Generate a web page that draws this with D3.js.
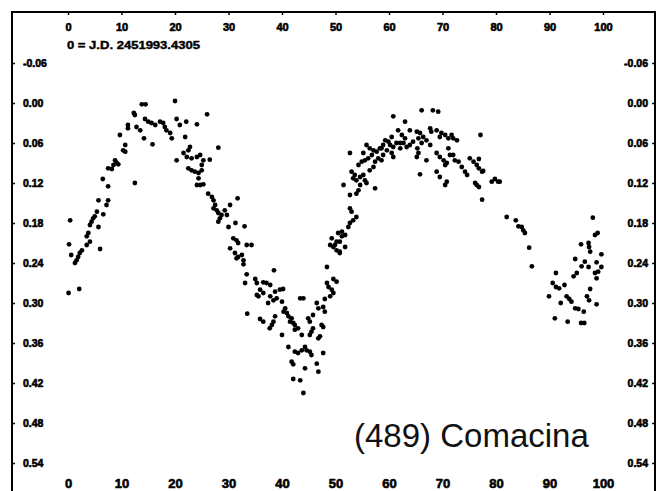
<!DOCTYPE html>
<html>
<head>
<meta charset="utf-8">
<script src="https://cdn.jsdelivr.net/npm/d3@7/dist/d3.min.js"></script>
<style>
  html, body { margin: 0; padding: 0; background: #fff; }
  svg { display: block; }
  .tick text { font-family: "Liberation Sans", Arial, sans-serif; font-weight: bold; fill: #000; stroke: #000; stroke-width: 0.6px; }
</style>
</head>
<body>
<svg id="chart" width="658" height="491"></svg>
<script>
// ---- Data (phase in %, differential magnitude) ----
const phase = [
  13.8,14.5,20.0,12.3,12.5,14.4,15.0,15.6,16.3,17.2,17.8,18.1,18.4,19.1,19.4,20.3,20.9,22.1,24.1,11.2,
  11.2,12.8,13.5,9.7,14.2,15.8,10.7,10.3,10.7,21.9,22.8,22.5,21.6,22.2,23.1,24.1,24.7,20.3,22.5,23.1,
  23.7,24.4,24.4,24.1,24.7,8.8,9.1,8.5,9.4,7.5,8.2,12.5,6.5,7.5,5.7,7.5,7.2,5.4,5.0,4.7,
  6.6,4.4,4.1,5.7,0.4,3.8,3.5,4.1,3.5,0.2,2.6,2.2,1.9,1.6,1.3,0.6,6.0,0.1,2.1,
  26.0,28.1,25.3,25.0,25.0,26.5,25.3,26.2,26.9,27.2,27.5,27.2,27.8,28.1,28.7,28.4,28.1,29.3,29.7,30.3,
  31.7,30.0,31.3,33.0,30.9,31.5,31.8,30.3,33.4,34.3,31.2,31.8,32.5,31.5,32.8,32.8,33.4,38.5,33.1,35.0,
  35.3,36.5,37.1,37.8,35.9,36.5,35.6,35.3,38.7,39.6,40.2,37.8,38.4,39.0,37.4,40.0,40.6,40.3,40.9,41.2,
  41.8,41.5,42.1,43.4,44.0,33.5,35.9,36.5,38.7,38.4,38.1,37.7,40.0,42.4,43.0,42.4,43.7,44.9,45.8,45.2,
  46.5,46.8,47.7,48.0,45.8,45.5,45.2,47.4,47.1,46.8,41.2,42.4,43.0,43.7,44.3,44.6,45.2,45.5,41.8,42.1,
  44.3,46.5,46.8,47.7,42.1,43.4,44.0,47.7,48.4,48.4,48.7,49.3,49.6,49.0,48.0,50.2,49.6,51.5,50.5,51.2,
  50.8,49.0,49.6,50.2,50.8,
  66.1,68.2,69.2,60.8,63.0,67.7,67.9,68.9,69.8,69.5,70.5,71.1,71.7,72.0,72.7,63.9,65.2,65.8,66.4,65.5,
  64.5,63.9,66.1,67.0,67.7,61.7,62.4,63.0,62.1,61.4,60.8,62.7,63.3,62.1,60.5,59.9,60.2,59.3,58.9,58.6,
  59.6,60.5,60.8,65.3,65.5,65.2,67.0,65.8,68.9,69.5,70.2,70.8,70.5,71.1,71.4,72.0,72.3,73.0,73.6,74.2,
  74.6,68.9,69.5,70.8,70.5,77.1,75.1,75.8,76.4,76.8,77.4,77.6,76.4,76.8,77.4,52.7,55.8,56.4,57.1,57.7,
  56.8,56.1,55.5,55.2,58.3,58.9,58.6,58.0,57.4,57.1,56.4,54.9,54.3,53.0,53.6,53.3,53.9,54.6,55.2,55.5,
  55.8,54.6,54.3,53.9,52.7,57.4,52.7,53.0,53.9,53.3,52.7,52.4,51.2,51.8,50.2,51.8,50.8,49.9,49.3,
  76.8,76.1,79.2,79.8,80.4,80.7,82.0,83.7,84.2,84.8,85.1,85.4,86.2,86.7,
  98.1,98.5,99.0,95.9,97.3,97.4,97.6,99.7,94.8,96.6,96.0,97.3,98.8,99.7,99.1,98.5,98.8,95.1,94.5,91.2,
  90.6,91.2,91.8,92.8,97.6,89.9,93.2,93.7,94.1,97.0,97.4,92.1,98.8,94.8,95.4,96.4,91.0,93.4,95.9,96.5
];
const mag = [
  0.002,0.002,-0.003,0.015,0.018,0.024,0.028,0.030,0.033,0.028,0.030,0.036,0.041,0.045,0.053,0.024,0.033,0.028,0.032,0.033,
  0.038,0.036,0.041,0.048,0.053,0.062,0.063,0.071,0.073,0.051,0.066,0.071,0.075,0.081,0.083,0.081,0.078,0.086,0.098,0.101,
  0.103,0.105,0.113,0.123,0.123,0.086,0.090,0.093,0.092,0.098,0.099,0.120,0.114,0.125,0.146,0.146,0.153,0.163,0.170,0.173,
  0.167,0.178,0.183,0.186,0.176,0.195,0.200,0.208,0.213,0.212,0.221,0.225,0.231,0.236,0.240,0.228,0.219,0.285,0.279,
  0.017,0.067,0.086,0.093,0.101,0.085,0.122,0.136,0.141,0.146,0.153,0.158,0.161,0.165,0.168,0.173,0.178,0.161,0.168,0.153,
  0.143,0.186,0.180,0.185,0.203,0.206,0.210,0.218,0.213,0.213,0.225,0.231,0.228,0.233,0.236,0.242,0.257,0.251,0.270,0.264,
  0.270,0.269,0.270,0.273,0.280,0.285,0.290,0.288,0.283,0.280,0.279,0.290,0.296,0.293,0.300,0.298,0.308,0.313,0.315,0.320,
  0.323,0.328,0.330,0.293,0.293,0.316,0.324,0.328,0.320,0.328,0.333,0.338,0.348,0.333,0.338,0.340,0.348,0.323,0.318,0.328,
  0.300,0.308,0.306,0.313,0.338,0.343,0.348,0.333,0.350,0.353,0.366,0.373,0.375,0.371,0.366,0.371,0.373,0.378,0.388,0.392,
  0.398,0.391,0.403,0.375,0.414,0.416,0.435,0.336,0.246,0.270,0.276,0.280,0.285,0.290,0.294,0.268,0.264,0.123,0.195,0.200,
  0.208,0.213,0.216,0.221,0.225,
  0.011,0.011,0.013,0.020,0.028,0.038,0.043,0.041,0.045,0.051,0.048,0.053,0.048,0.053,0.056,0.041,0.043,0.045,0.051,0.053,
  0.058,0.063,0.060,0.056,0.063,0.041,0.048,0.053,0.060,0.060,0.066,0.060,0.066,0.068,0.051,0.058,0.063,0.056,0.063,0.068,
  0.071,0.075,0.081,0.068,0.075,0.081,0.086,0.107,0.075,0.081,0.086,0.090,0.093,0.068,0.078,0.078,0.086,0.088,0.096,0.103,
  0.108,0.103,0.111,0.118,0.123,0.048,0.083,0.088,0.093,0.098,0.103,0.102,0.123,0.126,0.145,0.075,0.063,0.068,0.071,0.073,
  0.078,0.083,0.086,0.075,0.068,0.078,0.086,0.083,0.088,0.096,0.101,0.088,0.093,0.103,0.108,0.113,0.116,0.111,0.108,0.116,
  0.120,0.123,0.131,0.136,0.138,0.128,0.158,0.163,0.171,0.176,0.180,0.186,0.193,0.198,0.208,0.216,0.223,0.213,0.203,
  0.084,0.120,0.118,0.114,0.118,0.118,0.171,0.176,0.185,0.186,0.191,0.195,0.217,0.245,
  0.172,0.198,0.195,0.212,0.210,0.216,0.223,0.227,0.234,0.238,0.245,0.246,0.239,0.246,0.253,0.255,0.263,0.255,0.260,0.255,
  0.270,0.276,0.278,0.273,0.279,0.290,0.290,0.294,0.298,0.290,0.296,0.300,0.302,0.308,0.309,0.313,0.323,0.328,0.330,0.330
];
const xTicks = [0, 10, 20, 30, 40, 50, 60, 70, 80, 90, 100];
const yTicks = [-0.06, 0.00, 0.06, 0.12, 0.18, 0.24, 0.30, 0.36, 0.42, 0.48, 0.54];
const epochLabel = "0 = J.D. 2451993.4305";
const title = "(489) Comacina";

// ---- Drawing ----
const svg = d3.select("#chart");
const frame = { left: 12, right: 655, top: 12, bottom: 491 };

const x = d3.scaleLinear().domain([0, 100]).range([68, 603]);
const y = d3.scaleLinear().domain([-0.06, 0.54]).range([63, 463]);
const fmtY = d => d3.format(".2f")(d).replace("\u2212", "-");

// frame
svg.append("path")
  .attr("d", `M${frame.left},${frame.bottom + 5}V${frame.top}H${frame.right}V${frame.bottom + 5}`)
  .attr("fill", "none").attr("stroke", "#000").attr("stroke-width", 2);

// top axis (labels inside plot)
const gTop = svg.append("g").attr("transform", `translate(0,${frame.top})`)
  .call(d3.axisBottom(x).tickValues(xTicks).tickSize(3).tickPadding(8).tickFormat(d3.format("d")));
gTop.select(".domain").remove();
gTop.selectAll("text").style("font-size", "11px");

// bottom axis labels
const gBot = svg.append("g").attr("transform", `translate(0,476)`)
  .call(d3.axisBottom(x).tickValues(xTicks).tickSize(0).tickPadding(3).tickFormat(d3.format("d")));
gBot.select(".domain").remove();
gBot.selectAll("text").style("font-size", "13px");

// left axis
const gLeft = svg.append("g").attr("transform", `translate(${frame.left},0)`)
  .call(d3.axisRight(y).tickValues(yTicks).tickSize(3).tickPadding(8).tickFormat(fmtY));
gLeft.select(".domain").remove();
gLeft.selectAll("text").style("font-size", "10.5px");

// right axis
const gRight = svg.append("g").attr("transform", `translate(${frame.right},0)`)
  .call(d3.axisLeft(y).tickValues(yTicks).tickSize(3).tickPadding(4).tickFormat(fmtY));
gRight.select(".domain").remove();
gRight.selectAll("text").style("font-size", "10.5px");

svg.selectAll(".tick line").attr("stroke", "#000").attr("stroke-width", 1.5);

// epoch label
svg.append("text")
  .attr("x", x(0) - 1).attr("y", 49)
  .attr("font-family", "Liberation Sans, Arial, sans-serif")
  .attr("font-weight", "bold").attr("font-size", 10.5)
  .attr("stroke", "#000").attr("stroke-width", 0.4)
  .attr("textLength", 133).attr("lengthAdjust", "spacingAndGlyphs")
  .text(epochLabel);

// points
const pts = phase.map((p, i) => ({ p, m: mag[i] }));
svg.append("g").selectAll("circle").data(pts).join("circle")
  .attr("cx", d => x(d.p))
  .attr("cy", d => y(d.m))
  .attr("r", 2.4)
  .attr("fill", "#000");

// title
svg.append("text")
  .attr("x", 354).attr("y", 447)
  .attr("font-family", "Liberation Sans, Arial, sans-serif")
  .attr("font-size", 33)
  .attr("fill", "#111")
  .text(title);
</script>
</body>
</html>
